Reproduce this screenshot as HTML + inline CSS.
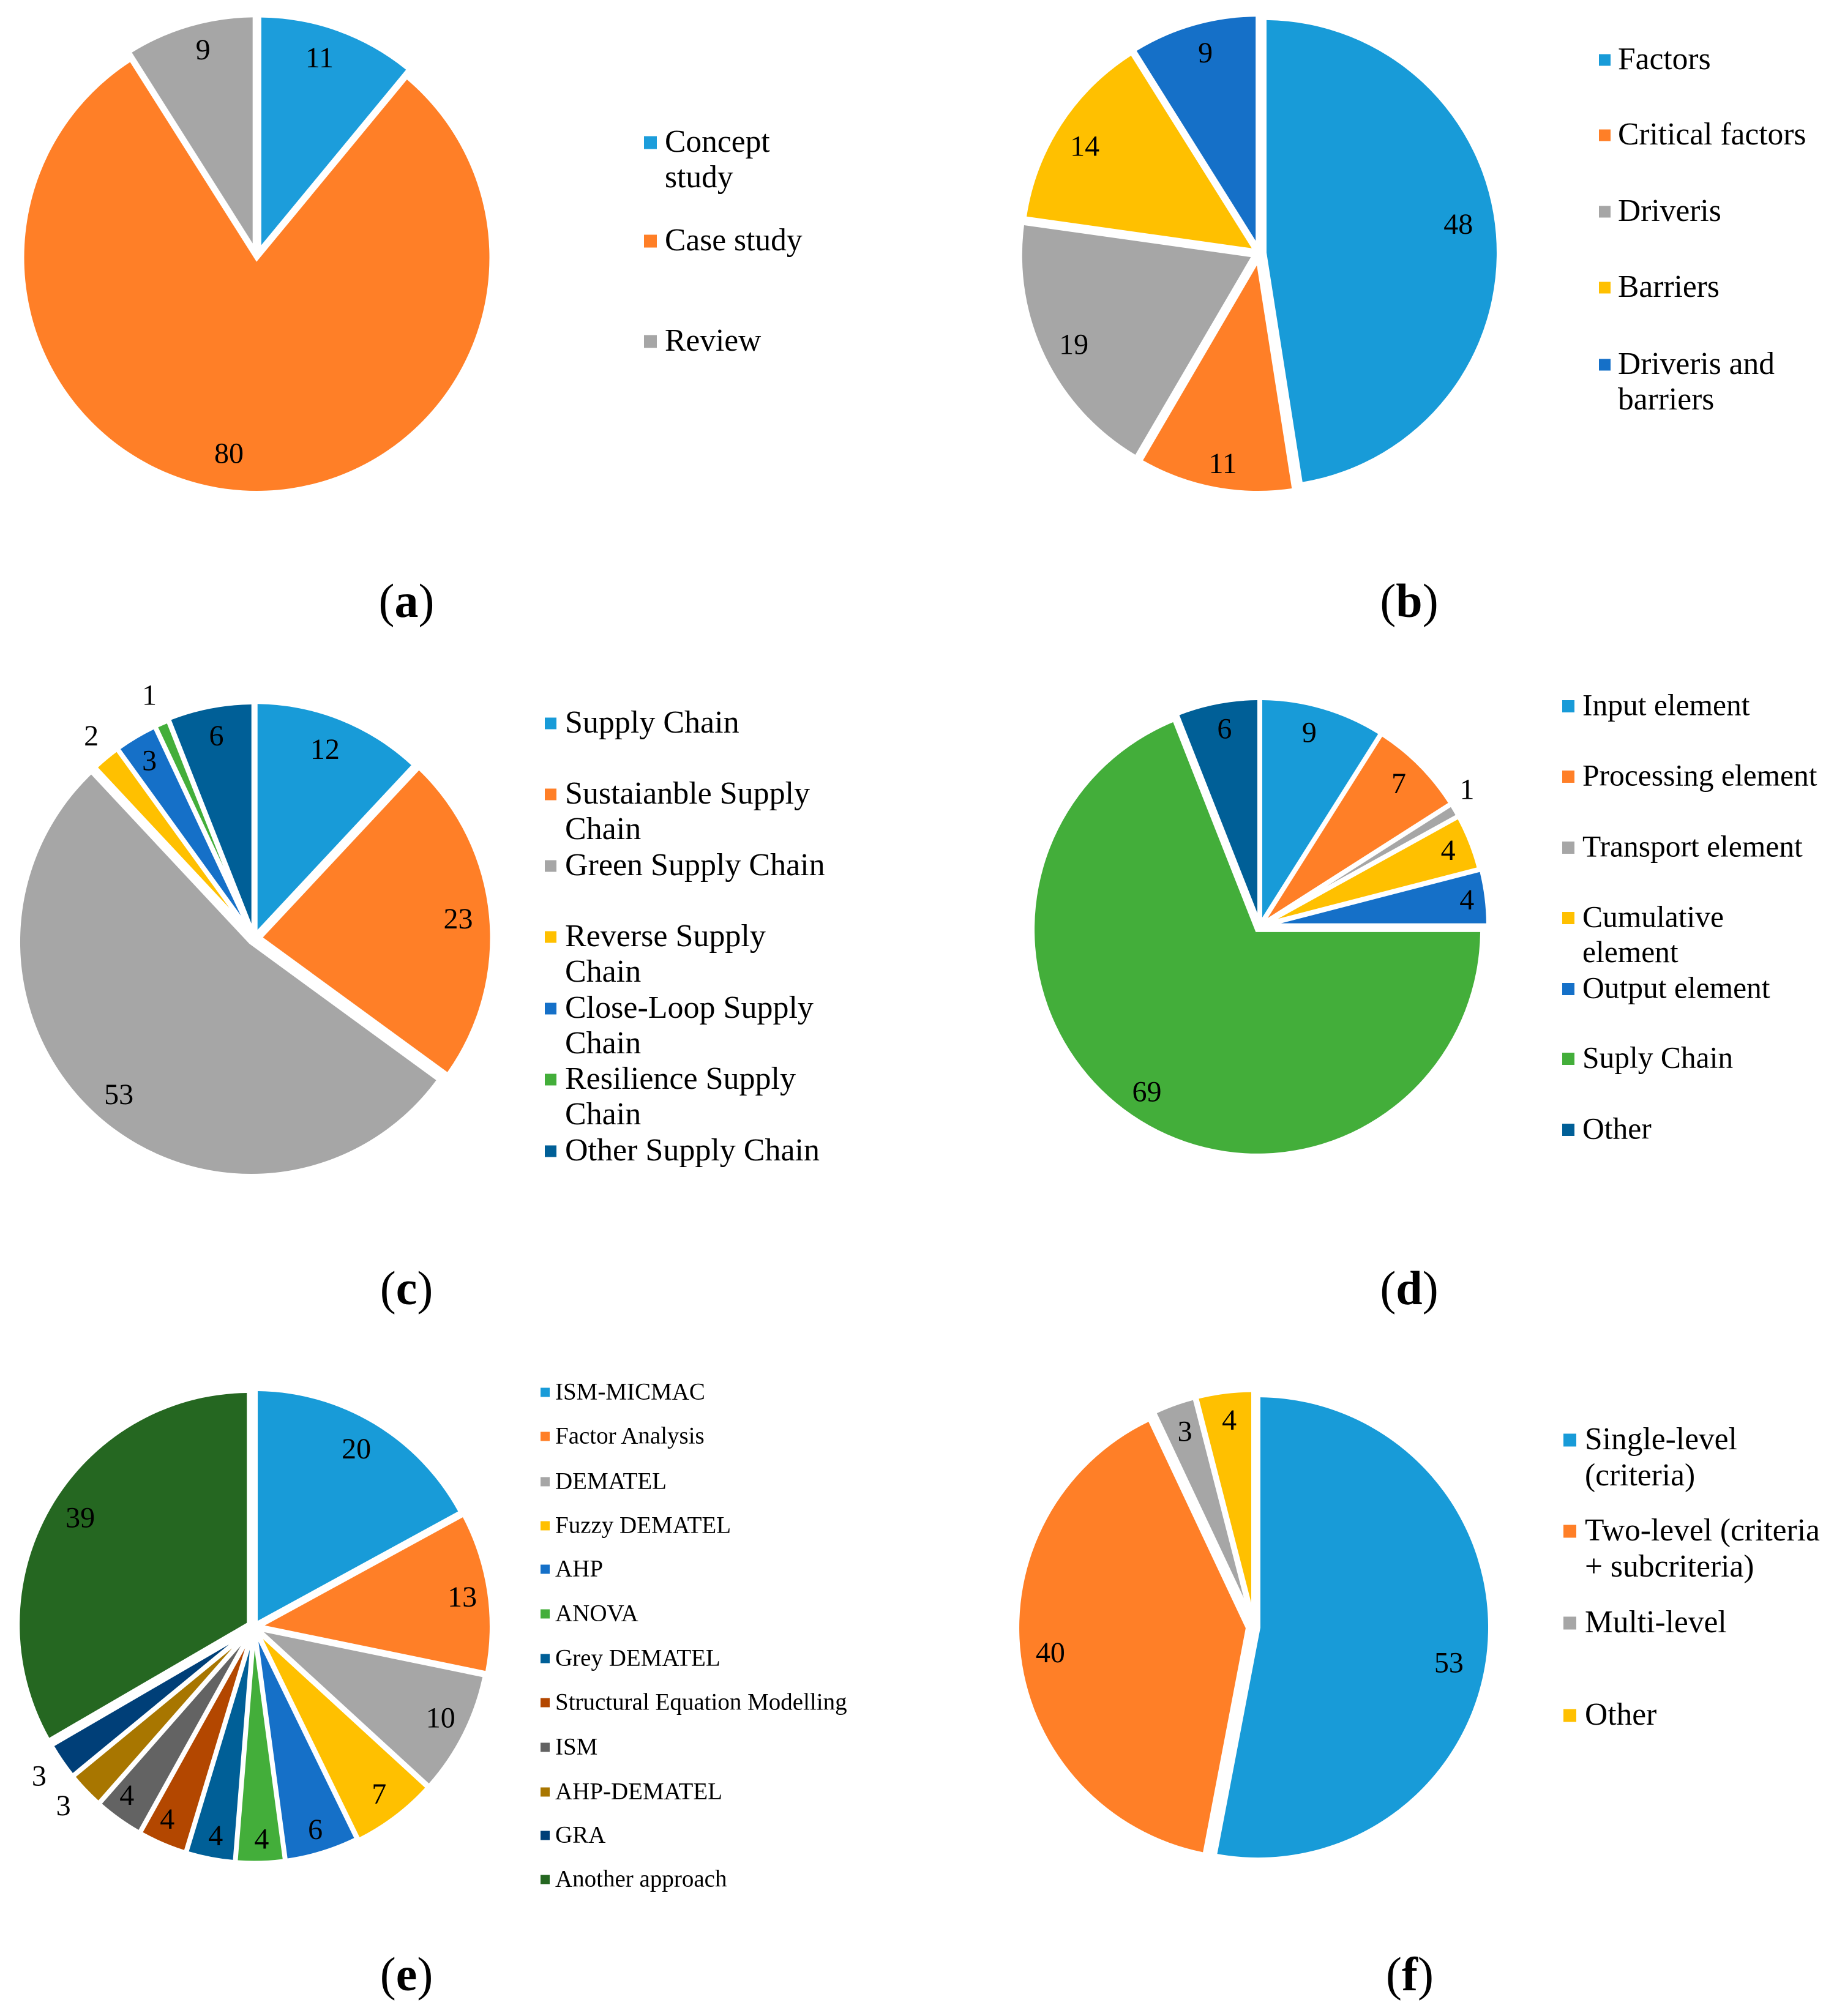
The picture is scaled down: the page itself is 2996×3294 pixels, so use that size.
<!DOCTYPE html>
<html lang="en">
<head>
<meta charset="utf-8">
<title>Pie charts (a)–(f)</title>
<style>
html,body{margin:0;padding:0;background:#fff;}
svg{display:block;}
text{font-family:"Liberation Serif",serif;fill:#000;}
</style>
</head>
<body>
<svg id="figure" xmlns="http://www.w3.org/2000/svg" width="2996" height="3294" viewBox="0 0 2996 3294"></svg>
<script>
// ---- chart data ----
const categoriesA = ["Concept|study", "Case study", "Review"];
const valuesA = [11, 80, 9];
const categoriesB = ["Factors", "Critical factors", "Driveris", "Barriers", "Driveris and|barriers"];
const valuesB = [48, 11, 19, 14, 9];
const categoriesC = ["Supply Chain", "Sustaianble Supply|Chain", "Green Supply Chain", "Reverse Supply|Chain", "Close-Loop Supply|Chain", "Resilience Supply|Chain", "Other Supply Chain"];
const valuesC = [12, 23, 53, 2, 3, 1, 6];
const categoriesD = ["Input element", "Processing element", "Transport element", "Cumulative|element", "Output element", "Suply Chain", "Other"];
const valuesD = [9, 7, 1, 4, 4, 69, 6];
const categoriesE = ["ISM-MICMAC", "Factor Analysis", "DEMATEL", "Fuzzy DEMATEL", "AHP", "ANOVA", "Grey DEMATEL", "Structural Equation Modelling", "ISM", "AHP-DEMATEL", "GRA", "Another approach"];
const valuesE = [20, 13, 10, 7, 6, 4, 4, 4, 4, 3, 3, 39];
const categoriesF = ["Single-level|(criteria)", "Two-level (criteria|+ subcriteria)", "Multi-level", "Other"];
const valuesF = [53, 40, 3, 4];

// ---- palette and layout (not data) ----
const palette = ["#189BD8", "#FF7F27", "#A6A6A6", "#FFC000", "#1570C8", "#43AE3A", "#005F97", "#B34700", "#636363", "#A87600", "#003F78", "#256721"];
const paletteA = ["#1C9DDB", "#FF7F27", "#A6A6A6"];

const charts = [
  {id:"a", categories:categoriesA, values:valuesA, colors:paletteA,
   cx:419.5, cy:421, rx:380, ry:381, gap:8, explode:{0:10,2:10}, trim:{0:-2,2:-2},
   lab:{cx:419.5, cy:415, rx:380, ry:387},
   labelFrac:[.872,.85,.893], labelTurn:[-1.8,4.5,1.2],
   swatchX:1052, swatchSize:21, textX:1086, fontSize:51.5, lineGap:58,
   rows:[233,394,558], captionX:664, captionY:1008},
  {id:"b", categories:categoriesB, values:valuesB, colors:palette,
   cx:2057, cy:413.5, rx:380, ry:380, gap:8, explode:{0:8,1:8.7,2:8,3:5,4:6.5}, trim:{},
   lab:{cx:2060, cy:414.5, rx:388, ry:387},
   labelFrac:[.84,.9,.876,.87,.88], labelTurn:[-4.1,-.4,0,-1.5,.6],
   swatchX:2612, swatchSize:19, textX:2643, fontSize:51.5, lineGap:58,
   rows:[98,221,346,470,596], captionX:2302, captionY:1008},
  {id:"c", categories:categoriesC, values:valuesC, colors:[palette[0],palette[1],palette[2],palette[3],palette[4],palette[5],palette[6]],
   cx:415.25, cy:1533, rx:377, ry:379, gap:8, explode:{0:4,1:8.3,2:8,6:3}, trim:{},
   lab:{cx:417, cy:1535, rx:383, ry:383},
   labelFrac:[.865,.87,.88,1.116,.887,1.137,.885], labelTurn:[-1.5,-.5,0,.8,0,0,0],
   swatchX:890, swatchSize:19, textX:923, fontSize:52, lineGap:58,
   rows:[1182,1298,1415,1531,1648,1764,1881], captionX:664, captionY:2131},
  {id:"d", categories:categoriesD, values:valuesD, colors:[palette[0],palette[1],palette[2],palette[3],palette[4],palette[5],palette[6]],
   cx:2058, cy:1513, rx:367, ry:369, gap:8, explode:{4:3,5:7}, trim:{5:3},
   lab:{cx:2056, cy:1515, rx:367, ry:370},
   labelFrac:[.89,.89,1.11,.91,.935,.88,.89], labelTurn:[-1.5,-.5,-2.7,-.4,-.3,.2,1],
   swatchX:2552, swatchSize:20, textX:2585, fontSize:49.5, lineGap:57.5,
   rows:[1154,1269,1385,1500,1616,1730,1846], captionX:2302, captionY:2131},
  {id:"e", categories:categoriesE, values:valuesE, colors:palette,
   cx:415, cy:2658.5, rx:379, ry:382, gap:8, explode:{0:4,1:6,2:3,3:3,11:9}, trim:{11:4},
   lab:{cx:415, cy:2657, rx:383, ry:382},
   labelFrac:[.876,.897,.887,.894,.908,.91,.91,.904,.904,1.118,1.118,.875], labelTurn:[-.9,.4,-.7,.3,.2,-.5,-.4,1.1,1.5,.5,-.3,2.1],
   swatchX:883, swatchSize:15, textX:907, fontSize:39, lineGap:46,
   rows:[2275,2347,2421,2493,2564,2637,2710,2782,2855,2928,2999,3071], captionX:664, captionY:3252},
  {id:"f", categories:categoriesF, values:valuesF, colors:palette,
   cx:2049, cy:2658.5, rx:376, ry:376, gap:8, explode:{0:6,1:10,2:8,3:8}, trim:{1:2},
   lab:{cx:2051, cy:2659, rx:385, ry:385},
   labelFrac:[.834,.877,.885,.888], labelTurn:[4.9,.2,0,0],
   swatchX:2554, swatchSize:21, textX:2589, fontSize:51.5, lineGap:59,
   rows:[2353,2502,2652,2803], captionX:2303, captionY:3252}
];

const SVG_NS = "http://www.w3.org/2000/svg";
const root = document.getElementById("figure");
const rad = d => d * Math.PI / 180;
const fmt = n => n.toFixed(2);
const slug = s => s.replace(/\|/g, " ").toLowerCase().replace(/[^a-z0-9]+/g, "-").replace(/^-|-$/g, "");

function make(tag, parent, attrs) {
  const el = document.createElementNS(SVG_NS, tag);
  for (const k in attrs) el.setAttribute(k, attrs[k]);
  parent.appendChild(el);
  return el;
}

// axis function: value -> angle in degrees, clockwise from 12 o'clock
function angleScale(values) {
  const total = values.reduce((s, v) => s + v, 0);
  return v => v / total * 360;
}

function wedgePath(c, a0, a1, explode, trim) {
  const k = c.ry / c.rx;
  const R = c.rx - trim;
  const mid = (a0 + a1) / 2, half = (a1 - a0) / 2, h = c.gap / 2;
  const dir = a => [Math.sin(rad(a)), -Math.cos(rad(a))];
  const m = dir(mid);
  const ox = c.cx + m[0] * explode, oy = c.cy + m[1] * explode * k;
  const d = h / Math.sin(rad(half));
  const rr = Math.sqrt(R * R - h * h);
  const u0 = dir(a0), n0 = dir(a0 + 90), u1 = dir(a1), n1 = dir(a1 - 90);
  const px = (x, y) => fmt(ox + x) + " " + fmt(oy + y * k);
  const apex = px(m[0] * d, m[1] * d);
  const p0 = px(u0[0] * rr + n0[0] * h, u0[1] * rr + n0[1] * h);
  const p1 = px(u1[0] * rr + n1[0] * h, u1[1] * rr + n1[1] * h);
  const large = (a1 - a0) > 180 ? 1 : 0;
  return "M" + apex + " L" + p0 + " A" + fmt(R) + " " + fmt(R * k) + " 0 " + large + " 1 " + p1 + " Z";
}

charts.forEach(function (c) {
  const chartGroup = make("g", root, {});
  
  

  const toAngle = angleScale(c.values);
  let cursor = 0;
  const mids = [];
  c.values.forEach(function (v, i) {
    const a0 = cursor, a1 = cursor + toAngle(v);
    cursor = a1;
    mids.push((a0 + a1) / 2);
    const slice = make("path", chartGroup, {
      d: wedgePath(c, a0, a1, c.explode[i] || 0, c.trim[i] || 0),
      fill: c.colors[i]
    });
    
    
  });

  c.values.forEach(function (v, i) {
    const theta = rad(mids[i] + c.labelTurn[i]);
    const x = c.lab.cx + c.lab.rx * c.labelFrac[i] * Math.sin(theta);
    const y = c.lab.cy - c.lab.ry * c.labelFrac[i] * Math.cos(theta);
    const label = make("text", chartGroup, {x: fmt(x), y: fmt(y + 16), "text-anchor": "middle", "font-size": 48});
    label.textContent = String(v);
    
    
  });

  const legend = make("g", chartGroup, {});
  
  
  c.categories.forEach(function (name, i) {
    const entry = make("g", legend, {});
    
    
    const rowY = c.rows[i];
    const swatch = make("rect", entry, {x: c.swatchX, y: rowY - c.swatchSize / 2, width: c.swatchSize, height: c.swatchSize, fill: c.colors[i]});
    
    
    name.split("|").forEach(function (line, n) {
      const t = make("text", entry, {x: c.textX, y: fmt(rowY + c.fontSize * 0.29 + n * c.lineGap), "font-size": c.fontSize});
      t.textContent = line;
      
      
    });
  });

  const cap = make("text", chartGroup, {x: c.captionX, y: c.captionY, "text-anchor": "middle", "font-size": 78});
  
  
  make("tspan", cap, {}).textContent = "(";
  make("tspan", cap, {"font-weight": "bold"}).textContent = c.id;
  make("tspan", cap, {}).textContent = ")";
});
</script>
</body>
</html>
